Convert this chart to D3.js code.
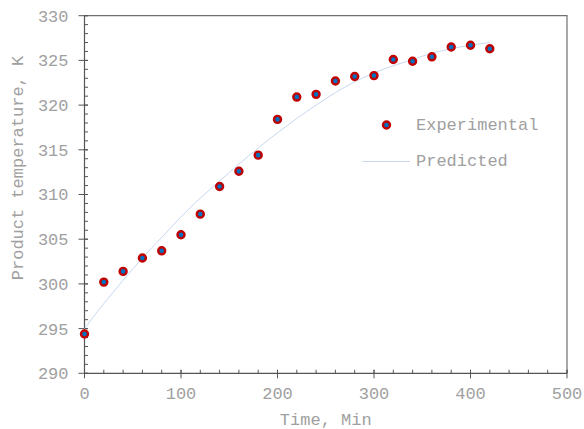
<!DOCTYPE html>
<html>
<head>
<meta charset="utf-8">
<script src="https://cdn.jsdelivr.net/npm/d3@7"></script>
<style>
  body { margin: 0; background: #fff; }
  text { font-family: "Liberation Mono", "DejaVu Sans Mono", monospace; fill: #a0a0a0; }
</style>
</head>
<body>
<svg></svg>
<script>
let width = 584, height = 429;

// measured points (time in min, product temperature in K)
let expTime = [0, 20, 40, 60, 80, 100, 120, 140, 160, 180, 200, 220, 240, 260, 280, 300, 320, 340, 360, 380, 400, 420];
let expTemp = [294.4, 300.2, 301.4, 302.9, 303.7, 305.5, 307.8, 310.9, 312.6, 314.4, 318.4, 320.9, 321.2, 322.7, 323.2, 323.3, 325.1, 324.9, 325.4, 326.5, 326.7, 326.3];

// model curve
let predTime = [0, 20, 40, 60, 80, 100, 120, 140, 160, 180, 200, 220, 240, 260, 280, 300, 320, 340, 360, 380, 400, 420];
let predTemp = [295.0, 297.8, 300.4, 302.9, 305.2, 307.5, 309.6, 311.5, 313.4, 315.2, 316.9, 318.5, 320.0, 321.4, 322.6, 323.6, 324.4, 325.1, 325.8, 326.3, 326.7, 327.0];

let xTicks = [0, 100, 200, 300, 400, 500];
let yTicks = [290, 295, 300, 305, 310, 315, 320, 325, 330];

let mLeft = 84.5, mRight = 567, mTop = 15.7, mBottom = 373.3;

let svg = d3.select("svg")
  .attr("width", width)
  .attr("height", height);

let x = d3.scaleLinear().domain([0, 500]).range([mLeft, mRight]);
let y = d3.scaleLinear().domain([290, 330]).range([mBottom, mTop]);

// frame: top and right borders
svg.append("path")
  .attr("d", `M${mLeft},${mTop}H${mRight}V${mBottom}`)
  .attr("fill", "none")
  .attr("stroke", "#707070")
  .attr("stroke-width", 1.2);

// minor ticks
let axisColor = "#555";
svg.append("g").selectAll("line")
  .data(d3.range(290, 331, 1))
  .enter().append("line")
  .attr("x1", mLeft).attr("x2", mLeft + 3.5)
  .attr("y1", d => y(d)).attr("y2", d => y(d))
  .attr("stroke", axisColor);
svg.append("g").selectAll("line")
  .data(d3.range(0, 501, 20))
  .enter().append("line")
  .attr("x1", d => x(d)).attr("x2", d => x(d))
  .attr("y1", mBottom).attr("y2", mBottom - 3.5)
  .attr("stroke", axisColor);

// major ticks
svg.append("g").selectAll("line")
  .data(yTicks)
  .enter().append("line")
  .attr("x1", mLeft - 6).attr("x2", mLeft + 3.5)
  .attr("y1", d => y(d)).attr("y2", d => y(d))
  .attr("stroke", axisColor);
svg.append("g").selectAll("line")
  .data(xTicks)
  .enter().append("line")
  .attr("x1", d => x(d)).attr("x2", d => x(d))
  .attr("y1", mBottom - 3.5).attr("y2", mBottom + 5)
  .attr("stroke", axisColor);

// axis lines
svg.append("line")
  .attr("x1", mLeft).attr("x2", mLeft).attr("y1", mTop).attr("y2", mBottom)
  .attr("stroke", axisColor).attr("stroke-width", 1.2);
svg.append("line")
  .attr("x1", mLeft).attr("x2", mRight).attr("y1", mBottom).attr("y2", mBottom)
  .attr("stroke", axisColor).attr("stroke-width", 1.2);

// tick labels
svg.append("g").selectAll("text")
  .data(yTicks)
  .enter().append("text")
  .attr("x", 68.5)
  .attr("y", d => y(d))
  .attr("dy", "0.35em")
  .attr("text-anchor", "end")
  .style("font-size", "17px")
  .text(d => d);
svg.append("g").selectAll("text")
  .data(xTicks)
  .enter().append("text")
  .attr("x", d => x(d))
  .attr("y", 399)
  .attr("text-anchor", "middle")
  .style("font-size", "17px")
  .text(d => d);

// axis titles
svg.append("text")
  .attr("x", (mLeft + mRight) / 2)
  .attr("y", 425)
  .attr("text-anchor", "middle")
  .style("font-size", "17px")
  .text("Time, Min");
svg.append("text")
  .attr("transform", "translate(23,168) rotate(-90)")
  .attr("text-anchor", "middle")
  .style("font-size", "17px")
  .text("Product temperature, K");

// predicted curve
let line = d3.line()
  .x((d, i) => x(predTime[i]))
  .y(d => y(d))
  .curve(d3.curveMonotoneX);
svg.append("path")
  .datum(predTemp)
  .attr("d", line)
  .attr("fill", "none")
  .attr("stroke", "#c6d9f0")
  .attr("stroke-width", 1);

// experimental points
svg.append("g").selectAll("circle")
  .data(expTemp)
  .enter().append("circle")
  .attr("cx", (d, i) => x(expTime[i]))
  .attr("cy", d => y(d))
  .attr("r", 3.5)
  .attr("fill", "#0070c0")
  .attr("stroke", "#c00000")
  .attr("stroke-width", 2.4);

// legend
let legend = svg.append("g");
legend.append("circle")
  .attr("cx", 386.5).attr("cy", 125)
  .attr("r", 3.5)
  .attr("fill", "#0070c0")
  .attr("stroke", "#c00000")
  .attr("stroke-width", 2.4);
legend.append("text")
  .attr("x", 416).attr("y", 130)
  .style("font-size", "17px")
  .text("Experimental");
legend.append("line")
  .attr("x1", 362.5).attr("x2", 410)
  .attr("y1", 161.5).attr("y2", 161.5)
  .attr("stroke", "#c6d9f0");
legend.append("text")
  .attr("x", 416).attr("y", 166)
  .style("font-size", "17px")
  .text("Predicted");
</script>
</body>
</html>
